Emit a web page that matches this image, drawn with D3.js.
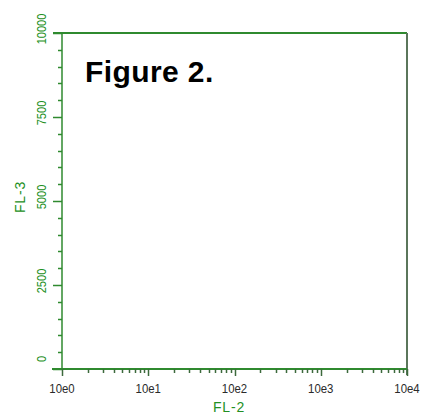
<!DOCTYPE html>
<html>
<head>
<meta charset="utf-8">
<script src="https://cdn.jsdelivr.net/npm/d3@7"></script>
<style>
  html, body { margin: 0; padding: 0; background: #ffffff; }
  svg { display: block; }
</style>
</head>
<body>
<svg id="chart" width="423" height="414"></svg>
<script>
// FL-2 (log) against FL-3 (linear) dot plot; no events recorded.
const events = [];                       // [{fl2, fl3}]
const xTickValues = [1, 10, 100, 1000, 10000];
const xTickLabels = ["10e0", "10e1", "10e2", "10e3", "10e4"];
const yTickValues = [0, 2500, 5000, 7500, 10000];
const yTickLabels = ["0", "2500", "5000", "7500", "10000"];
const yMinorStep = 500;
const xTitle = "FL-2";
const yTitle = "FL-3";
const figureTitle = "Figure 2.";

const green = "#2f8a2f";
const labelGreen = "#238f23";
const frameGrey = "#5b765b";

const svg = d3.select("#chart");
const plotL = 62, plotR = 407, plotT = 33, plotB = 369;

const x = d3.scaleLog().domain([1, 10000]).range([plotL, plotR]);
const y = d3.scaleLinear().domain([0, 10000]).range([plotB, plotT]);

// frame: top and right edges
svg.append("line").attr("x1", plotL - 9).attr("x2", plotR).attr("y1", y(10000)).attr("y2", y(10000))
  .attr("stroke", green).attr("stroke-width", 2);
svg.append("line").attr("x1", plotR).attr("x2", plotR).attr("y1", plotT).attr("y2", plotB + 6)
  .attr("stroke", frameGrey).attr("stroke-width", 2);

// y axis
const yAxis = svg.append("g");
yAxis.append("line").attr("x1", plotL).attr("x2", plotL).attr("y1", plotT).attr("y2", plotB)
  .attr("stroke", green).attr("stroke-width", 1.5);
const yMinor = d3.range(0, 10000 + 1, yMinorStep).filter(v => !yTickValues.includes(v));
yAxis.selectAll("line.minor").data(yMinor).join("line").attr("class", "minor")
  .attr("x1", plotL - 4).attr("x2", plotL)
  .attr("y1", d => Math.round(y(d)) + 0.5).attr("y2", d => Math.round(y(d)) + 0.5)
  .attr("stroke", green).attr("stroke-width", 1.5);
yAxis.selectAll("line.major").data(yTickValues).join("line").attr("class", "major")
  .attr("x1", plotL - 9).attr("x2", plotL)
  .attr("y1", d => Math.round(y(d)) + 0.5).attr("y2", d => Math.round(y(d)) + 0.5)
  .attr("stroke", green).attr("stroke-width", 1.5);
yAxis.selectAll("text").data(yTickValues).join("text")
  .attr("transform", d => `translate(46,${Math.min(y(d) - 4, y(0) - 10)}) rotate(-90) scale(0.92,1.12)`)
  .attr("text-anchor", "middle")
  .attr("font-family", "Liberation Sans, Arial, sans-serif")
  .attr("font-size", 12)
  .attr("fill", labelGreen)
  .text((d, i) => yTickLabels[i]);

// x axis
const xAxis = svg.append("g");
xAxis.append("line").attr("x1", plotL - 10).attr("x2", plotR).attr("y1", plotB).attr("y2", plotB)
  .attr("stroke", green).attr("stroke-width", 2);
const xMinor = [];
xTickValues.slice(0, -1).forEach(dec => { for (let k = 2; k <= 9; k++) xMinor.push(dec * k); });
xAxis.selectAll("line.minor").data(xMinor).join("line").attr("class", "minor")
  .attr("x1", d => Math.round(x(d)) + 0.5).attr("x2", d => Math.round(x(d)) + 0.5)
  .attr("y1", plotB).attr("y2", plotB + 4)
  .attr("stroke", "#3c6a3c").attr("stroke-width", 1.5);
xAxis.selectAll("line.major").data(xTickValues).join("line").attr("class", "major")
  .attr("x1", d => Math.round(x(d)) + 0.5).attr("x2", d => Math.round(x(d)) + 0.5)
  .attr("y1", plotB).attr("y2", plotB + 7)
  .attr("stroke", "#3c6a3c").attr("stroke-width", 1.5);
xAxis.selectAll("text").data(xTickValues).join("text")
  .attr("transform", d => `translate(${x(d)},${plotB + 24}) scale(0.95,1.1)`)
  .attr("text-anchor", "middle")
  .attr("font-family", "Liberation Sans, Arial, sans-serif")
  .attr("font-size", 12)
  .attr("fill", "#2a2a2a")
  .text((d, i) => xTickLabels[i]);

// axis titles
svg.append("text").attr("x", 229).attr("y", 412)
  .attr("text-anchor", "middle")
  .attr("font-family", "Liberation Sans, Arial, sans-serif")
  .attr("font-size", 14).attr("letter-spacing", 0.8)
  .attr("fill", labelGreen).text(xTitle);
svg.append("text").attr("transform", "translate(25,197) rotate(-90)")
  .attr("text-anchor", "middle")
  .attr("font-family", "Liberation Sans, Arial, sans-serif")
  .attr("font-size", 14).attr("letter-spacing", 0.8)
  .attr("fill", labelGreen).text(yTitle);

// events
svg.append("g").selectAll("rect").data(events).join("rect")
  .attr("x", d => x(d.fl2)).attr("y", d => y(d.fl3))
  .attr("width", 1).attr("height", 1).attr("fill", "#000");

// figure caption inside the plot
svg.append("text").attr("x", 85).attr("y", 82)
  .attr("font-family", "Liberation Sans, Arial, sans-serif")
  .attr("font-size", 30).attr("font-weight", "bold")
  .attr("letter-spacing", 0.4)
  .attr("fill", "#000").text(figureTitle);
</script>
</body>
</html>
